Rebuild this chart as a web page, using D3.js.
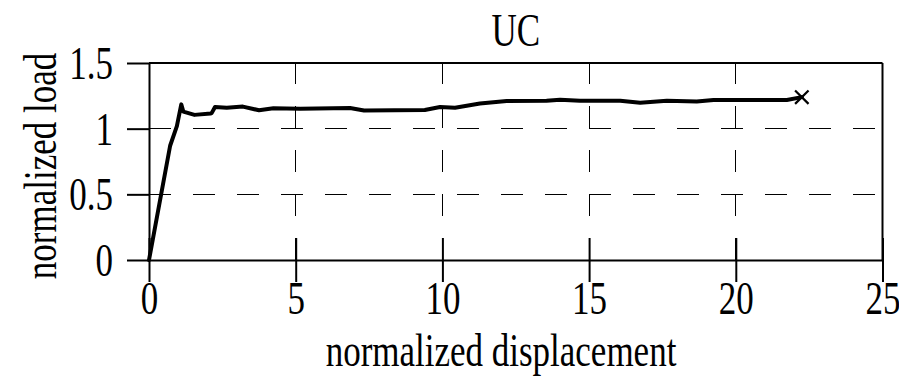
<!DOCTYPE html>
<html>
<head>
<meta charset="utf-8">
<script src="https://cdn.jsdelivr.net/npm/d3@7"></script>
<style>
  html, body { margin: 0; padding: 0; background: #fff; }
  svg text { font-family: "Liberation Serif", "Times New Roman", serif; fill: #000; }
</style>
</head>
<body>
<svg id="chart" width="899" height="380"></svg>
<script>
// ---- data ----
const displacement = [0, 0.72, 0.95, 1.1, 1.17, 1.55, 2.1, 2.14, 2.25, 2.65, 3.2, 3.75, 4.24, 5.15, 6.85, 7.33, 9.4, 9.92, 10.43, 11.28, 12.19, 13.55, 14.01, 14.69, 16.06, 16.74, 17.65, 18.67, 19.24, 21.74, 22.25];
const load = [0, 0.87, 1.02, 1.185, 1.13, 1.105, 1.115, 1.12, 1.165, 1.16, 1.168, 1.14, 1.155, 1.152, 1.158, 1.138, 1.142, 1.165, 1.16, 1.192, 1.21, 1.212, 1.22, 1.212, 1.213, 1.198, 1.212, 1.206, 1.218, 1.218, 1.24];
const xTicks = [0, 5, 10, 15, 20, 25];
const yTicks = [0, 0.5, 1, 1.5];
const yTickLabels = ["0", "0.5", "1", "1.5"];
const title = "UC";
const xTitle = "normalized displacement";
const yTitle = "normalized load";

(function () {
const svg = d3.select("#chart");
const pL = 149, pR = 882.5, pT = 63, pB = 260;
const x = d3.scaleLinear().domain([0, 25]).range([pL, pR]);
const y = d3.scaleLinear().domain([0, 1.5]).range([pB, pT]);
const fs = 35, sy = 1.3;

// gridlines
const grid = svg.append("g").attr("stroke", "#000").attr("stroke-width", 1)
  .attr("stroke-dasharray", "22,22").attr("shape-rendering", "crispEdges");
grid.selectAll("line.h").data(yTicks.filter(v => v > 0 && v < 1.5)).join("line")
  .attr("class", "h")
  .attr("x1", pL).attr("x2", pR).attr("y1", d => y(d)).attr("y2", d => y(d));
grid.selectAll("line.v").data(xTicks.filter(v => v > 0 && v < 25)).join("line")
  .attr("class", "v")
  .attr("x1", d => x(d)).attr("x2", d => x(d)).attr("y1", pB).attr("y2", pT);

// frame top/right
svg.append("line").attr("x1", pL).attr("x2", pR).attr("y1", pT).attr("y2", pT)
  .attr("stroke", "#000").attr("stroke-width", 2);
svg.append("line").attr("x1", pR).attr("x2", pR).attr("y1", pT).attr("y2", pB)
  .attr("stroke", "#000").attr("stroke-width", 2);

// x axis (crossing ticks)
const xAxis = svg.append("g").attr("transform", `translate(0,${pB})`)
  .call(d3.axisBottom(x).tickValues(xTicks).tickSize(22).tickSizeOuter(0).tickFormat(d3.format("d")));
svg.append("g").attr("transform", `translate(0,${pB})`)
  .call(d3.axisBottom(x).tickValues(xTicks).tickSize(-22).tickSizeOuter(0).tickFormat(""))
  .call(g => g.select(".domain").remove());
xAxis.select(".domain").attr("stroke", "#000").attr("stroke-width", 2);
xAxis.selectAll("text").attr("y", 0).attr("dy", null)
  .attr("transform", `translate(0,54) scale(1,${sy})`)
  .attr("font-size", fs).attr("font-family", "Liberation Serif");

// y axis
const yAxis = svg.append("g").attr("transform", `translate(${pL},0)`)
  .call(d3.axisLeft(y).tickValues(yTicks).tickSize(22).tickSizeOuter(0)
    .tickFormat((d, i) => yTickLabels[i]));
yAxis.select(".domain").attr("stroke", "#000").attr("stroke-width", 2);
yAxis.selectAll("text").attr("x", 0).attr("dy", "0.34em")
  .attr("transform", `translate(-36,0) scale(1,${sy})`)
  .attr("font-size", fs).attr("font-family", "Liberation Serif");
svg.selectAll(".tick line").attr("stroke", "#000").attr("stroke-width", 2);

// curve
const pts = displacement.map((d, i) => [d, load[i]]);
svg.append("path").datum(pts)
  .attr("fill", "none").attr("stroke", "#000").attr("stroke-width", 4)
  .attr("stroke-linejoin", "round").attr("stroke-linecap", "round")
  .attr("d", d3.line().x(d => x(d[0])).y(d => y(d[1])).curve(d3.curveLinear));

// end marker (x)
const last = pts[pts.length - 1];
svg.append("path")
  .attr("transform", `translate(${x(last[0])},${y(last[1])})`)
  .attr("d", d3.symbol(d3.symbolTimes, 120)())
  .attr("fill", "none").attr("stroke", "#000").attr("stroke-width", 2.2);

// titles
svg.append("text").attr("transform", `translate(${(pL + pR) / 2},46) scale(1,${sy})`)
  .attr("text-anchor", "middle").attr("font-size", fs).text(title);
svg.append("text").attr("transform", `translate(501,366) scale(1,${sy})`)
  .attr("text-anchor", "middle").attr("font-size", fs).text(xTitle);
svg.append("text").attr("transform", `translate(56,166) rotate(-90) scale(1,${sy})`)
  .attr("text-anchor", "middle").attr("font-size", fs).text(yTitle);
})();
</script>
</body>
</html>
